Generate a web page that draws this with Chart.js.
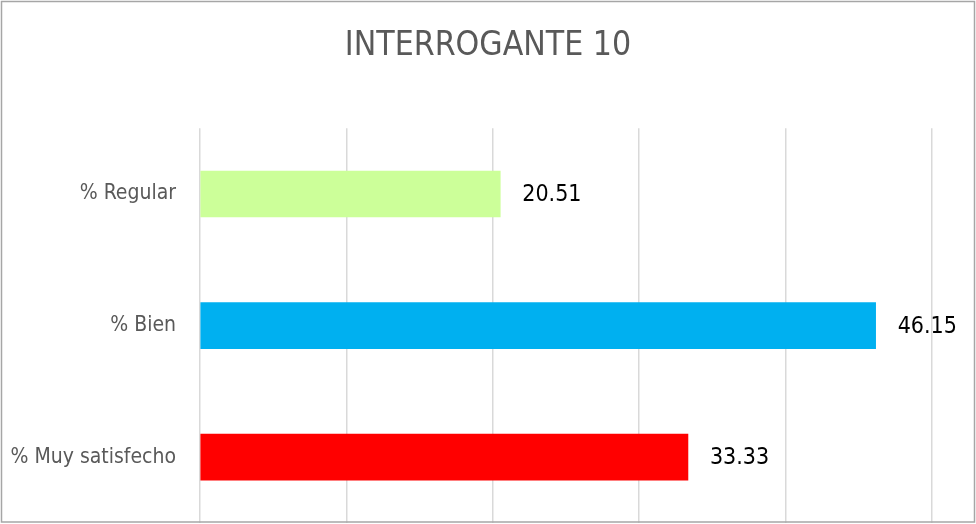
<!DOCTYPE html>
<html>
<head>
<meta charset="utf-8">
<script src="https://cdn.jsdelivr.net/npm/chart.js@4"></script>
<style>
  body { margin: 0; background: #fff; }
  #wrap { position: relative; width: 976px; height: 524px; }
</style>
</head>
<body>
<div id="wrap"><canvas id="grafico"></canvas></div>
<script>
const categorias = ["% Regular", "% Bien", "% Muy satisfecho"];
const porcentajes = [20.51, 46.15, 33.33];
const colores = ["#CCFF99", "#00B0F0", "#FF0000"];
const ejeMin = 0;
const ejeMax = 50;
const ejePaso = 10;

const fuente = "'DejaVu Sans Condensed', 'Liberation Sans Narrow', sans-serif";

// etiquetas de valor al final de cada barra
const etiquetas = {
  id: "etiquetas",
  afterDatasetsDraw(chart) {
    const ctx = chart.ctx;
    ctx.save();
    ctx.font = "23px " + fuente;
    ctx.fillStyle = "#000000";
    ctx.textBaseline = "middle";
    ctx.textAlign = "left";
    chart.getDatasetMeta(0).data.forEach((bar, i) => {
      ctx.fillText(porcentajes[i].toFixed(2), bar.x + 22, bar.y + 1);
    });
    ctx.restore();
  },
};

// borde del area del grafico
const borde = {
  id: "borde",
  afterDraw(chart) {
    const ctx = chart.ctx;
    ctx.save();
    ctx.strokeStyle = "#a6a6a6";
    ctx.lineWidth = 1.5;
    ctx.strokeRect(1.5, 1.5, chart.width - 3, chart.height - 3.5);
    ctx.restore();
  },
};

new Chart(document.getElementById("grafico"), {
  type: "bar",
  data: {
    labels: categorias,
    datasets: [
      {
        data: porcentajes,
        backgroundColor: colores,
        barThickness: 46,
      },
    ],
  },
  options: {
    indexAxis: "y",
    responsive: true,
    maintainAspectRatio: false,
    animation: false,
    layout: { padding: { left: 0, right: 0, top: 0, bottom: 1 } },
    plugins: {
      legend: { display: false },
      tooltip: { enabled: false },
      title: {
        display: true,
        text: "INTERROGANTE 10",
        color: "#595959",
        font: { family: fuente, size: 33.5, weight: "normal", lineHeight: 1.2 },
        padding: { top: 26, bottom: 62 },
      },
    },
    scales: {
      x: {
        min: ejeMin,
        max: ejeMax,
        ticks: { stepSize: ejePaso, display: false },
        grid: { color: "#d9d9d9", lineWidth: 1.5, drawTicks: false },
        border: { display: false },
      },
      y: {
        afterFit(scale) {
          scale.width = 200;
          scale.paddingTop = 0;
          scale.paddingBottom = 0;
        },
        ticks: {
          color: "#595959",
          padding: 24,
          font: { family: fuente, size: 21 },
        },
        grid: { display: false, drawTicks: false },
        border: { display: false },
      },
      derecha: {
        type: "category",
        labels: categorias,
        position: "right",
        afterFit(scale) {
          scale.width = 44;
          scale.paddingTop = 0;
          scale.paddingBottom = 0;
        },
        ticks: { display: false },
        grid: { display: false, drawTicks: false },
        border: { display: false },
      },
    },
  },
  plugins: [etiquetas, borde],
});
</script>
</body>
</html>
